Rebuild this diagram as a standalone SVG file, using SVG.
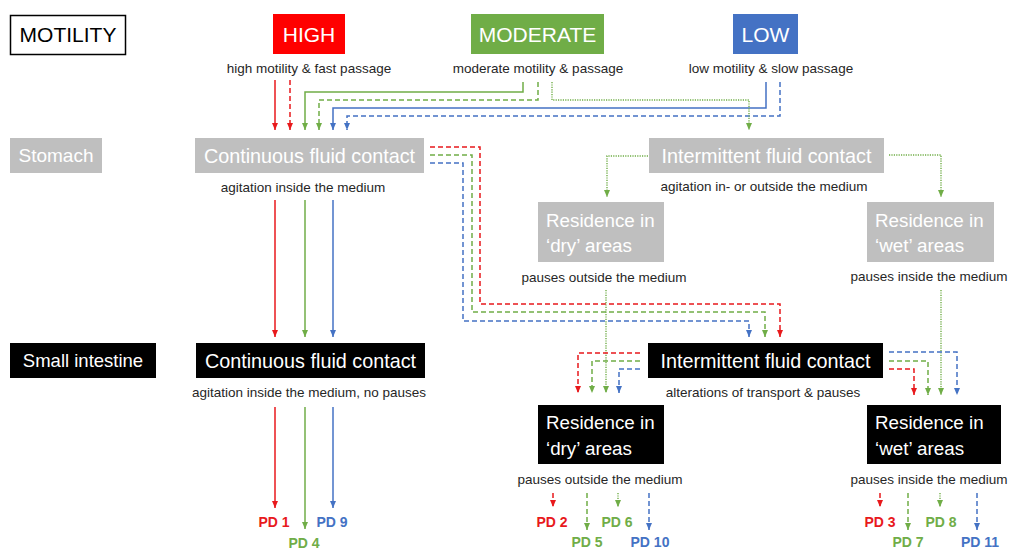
<svg xmlns="http://www.w3.org/2000/svg" width="1010" height="549" viewBox="0 0 1010 549">
<style>
text{font-family:"Liberation Sans",Arial,sans-serif}
.lbl{font-size:13.5px;fill:#262626;text-anchor:middle}
.bt{font-size:19.8px;fill:#fff;text-anchor:middle}
.rt{font-size:18.8px;fill:#fff}
.hd{font-size:21px;fill:#fff;text-anchor:middle}
.pd{font-size:14px;font-weight:bold;text-anchor:middle}
.gray{fill:#bfbfbf}
.blk{fill:#000}
.c{fill:none;stroke-width:1.5}
.r{stroke:#e8191c}
.g{stroke:#70ad47}
.b{stroke:#4472c4}
.da{stroke-dasharray:5 3}
.dt{stroke-dasharray:1.2 1.2;stroke-width:1.4}
.ar{marker-end:url(#mr)}
.ag{marker-end:url(#mg)}
.ab{marker-end:url(#mb)}
</style>
<defs>
<marker id="mr" markerUnits="userSpaceOnUse" markerWidth="7" markerHeight="7" refX="7" refY="3.5" orient="auto"><path d="M0,0.5 L7,3.5 L0,6.5 z" fill="#e8191c"/></marker>
<marker id="mg" markerUnits="userSpaceOnUse" markerWidth="7" markerHeight="7" refX="7" refY="3.5" orient="auto"><path d="M0,0.5 L7,3.5 L0,6.5 z" fill="#70ad47"/></marker>
<marker id="mb" markerUnits="userSpaceOnUse" markerWidth="7" markerHeight="7" refX="7" refY="3.5" orient="auto"><path d="M0,0.5 L7,3.5 L0,6.5 z" fill="#4472c4"/></marker>
</defs>
<rect width="1010" height="549" fill="#fff"/>

<g id="motility">
<rect x="10.5" y="15.5" width="115" height="39" fill="#fff" stroke="#000" stroke-width="1.5"/>
<text x="68" y="42" style="font-size:21px;fill:#000;text-anchor:middle">MOTILITY</text>
</g>
<g id="high">
<rect x="273" y="14" width="72" height="40" fill="#ff0000"/>
<text class="hd" x="309" y="41.5">HIGH</text>
<text class="lbl" x="309" y="72.5">high motility &amp; fast passage</text>
</g>
<g id="moderate">
<rect x="471" y="14" width="133" height="40" fill="#70ad47"/>
<text class="hd" x="537.5" y="41.5">MODERATE</text>
<text class="lbl" x="538" y="72.5">moderate motility &amp; passage</text>
</g>
<g id="low">
<rect x="733" y="14" width="65" height="40" fill="#4472c4"/>
<text class="hd" x="765.5" y="41.5">LOW</text>
<text class="lbl" x="771" y="72.5">low motility &amp; slow passage</text>
</g>

<g id="stomach">
<rect class="gray" x="10" y="138" width="92" height="35"/>
<text x="56" y="162" style="font-size:19px;fill:#fff;text-anchor:middle">Stomach</text>
</g>
<g id="stomach-continuous">
<rect class="gray" x="195" y="138" width="229" height="35"/>
<text class="bt" x="309.5" y="162.5">Continuous fluid contact</text>
<text class="lbl" x="303" y="191.5">agitation inside the medium</text>
</g>
<g id="stomach-intermittent">
<rect class="gray" x="649" y="138" width="235" height="35"/>
<text class="bt" x="766.5" y="162.5">Intermittent fluid contact</text>
<text class="lbl" x="764" y="190.5">agitation in- or outside the medium</text>
</g>
<g id="stomach-dry">
<rect class="gray" x="538" y="202" width="126" height="60"/>
<text class="rt" x="546" y="227">Residence in</text>
<text class="rt" x="546" y="252">‘dry’ areas</text>
<text class="lbl" x="604" y="281.5">pauses outside the medium</text>
</g>
<g id="stomach-wet">
<rect class="gray" x="867" y="202" width="127" height="60"/>
<text class="rt" x="875" y="227">Residence in</text>
<text class="rt" x="875" y="252">‘wet’ areas</text>
<text class="lbl" x="929" y="280.5">pauses inside the medium</text>
</g>

<g id="small-intestine">
<rect class="blk" x="10" y="343" width="146" height="35"/>
<text x="83" y="367" style="font-size:18.5px;fill:#fff;text-anchor:middle">Small intestine</text>
</g>
<g id="si-continuous">
<rect class="blk" x="196" y="343" width="229" height="35"/>
<text class="bt" x="310.5" y="367.5">Continuous fluid contact</text>
<text class="lbl" x="309" y="396.5">agitation inside the medium, no pauses</text>
</g>
<g id="si-intermittent">
<rect class="blk" x="648" y="343" width="235" height="35"/>
<text class="bt" x="765.5" y="367.5">Intermittent fluid contact</text>
<text class="lbl" x="763" y="396.5">alterations of transport &amp; pauses</text>
</g>
<g id="si-dry">
<rect class="blk" x="538" y="405" width="126" height="59"/>
<text class="rt" x="546" y="429">Residence in</text>
<text class="rt" x="546" y="455">‘dry’ areas</text>
<text class="lbl" x="600" y="483.5">pauses outside the medium</text>
</g>
<g id="si-wet">
<rect class="blk" x="867" y="405" width="134" height="59"/>
<text class="rt" x="875" y="429">Residence in</text>
<text class="rt" x="875" y="455">‘wet’ areas</text>
<text class="lbl" x="929" y="483.5">pauses inside the medium</text>
</g>

<g id="pd-labels">
<text class="pd" x="274" y="527" fill="#e8191c">PD 1</text>
<text class="pd" x="304" y="548" fill="#70ad47">PD 4</text>
<text class="pd" x="332" y="527" fill="#4472c4">PD 9</text>
<text class="pd" x="552" y="527" fill="#e8191c">PD 2</text>
<text class="pd" x="587" y="547" fill="#70ad47">PD 5</text>
<text class="pd" x="617" y="527" fill="#70ad47">PD 6</text>
<text class="pd" x="650" y="547" fill="#4472c4">PD 10</text>
<text class="pd" x="880" y="527" fill="#e8191c">PD 3</text>
<text class="pd" x="908" y="547" fill="#70ad47">PD 7</text>
<text class="pd" x="941" y="527" fill="#70ad47">PD 8</text>
<text class="pd" x="980" y="547" fill="#4472c4">PD 11</text>
</g>

<g id="connectors">
<path class="c r ar" d="M275,80 V130"/>
<path class="c r da ar" d="M290,80 V130"/>
<path class="c g ag" d="M523,82 V92 H305 V130"/>
<path class="c g da ag" d="M538,82 V100 H319 V130"/>
<path class="c b ab" d="M766,82 V108 H333 V130"/>
<path class="c b da ab" d="M780,82 V116 H347 V130"/>
<path class="c g dt ag" d="M552,82 V100 H749 V130"/>

<path class="c g dt ag" d="M648,156 H607 V197"/>
<path class="c g dt ag" d="M889,155 H941 V197"/>

<path class="c r ar" d="M275,200 V337"/>
<path class="c g ag" d="M305,200 V337"/>
<path class="c b ab" d="M333,200 V337"/>

<path class="c r da ar" d="M430,147 H480 V304 H780 V337"/>
<path class="c g da ag" d="M430,155 H472 V312 H765 V337"/>
<path class="c b da ab" d="M430,163 H463 V321 H749 V337"/>

<path class="c g dt ag" d="M606,290 V393"/>
<path class="c g dt ag" d="M941,290 V395"/>

<path class="c r da ar" d="M640,353 H578 V393"/>
<path class="c g da ag" d="M640,361 H592 V393"/>
<path class="c b da ab" d="M640,369 H619 V393"/>
<path class="c b da ab" d="M889,352 H957 V395"/>
<path class="c g da ag" d="M889,361 H928 V395"/>
<path class="c r da ar" d="M889,369 H914 V395"/>

<path class="c r ar" d="M275,407 V508"/>
<path class="c g ag" d="M305,407 V529"/>
<path class="c b ab" d="M333,407 V508"/>

<path class="c r da ar" d="M553,493 V507"/>
<path class="c g da ag" d="M587,493 V530"/>
<path class="c g dt ag" d="M618,493 V507"/>
<path class="c b da ab" d="M649,493 V530"/>
<path class="c r da ar" d="M880,493 V507"/>
<path class="c g da ag" d="M908,493 V530"/>
<path class="c g dt ag" d="M940,493 V507"/>
<path class="c b da ab" d="M977,493 V530"/>
</g>
</svg>
